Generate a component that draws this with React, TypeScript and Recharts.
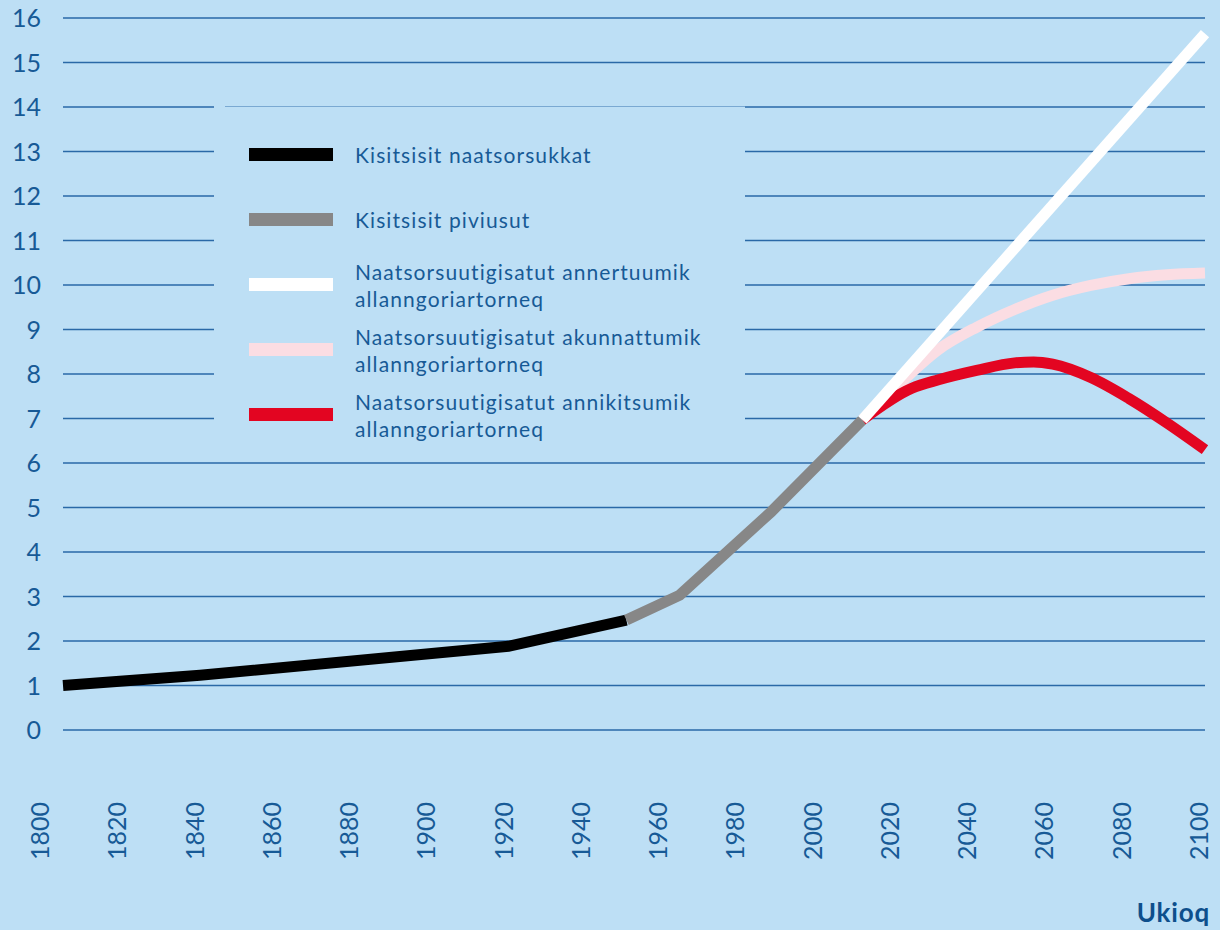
import React from "react";
import { LineChart, Line, XAxis, YAxis, CartesianGrid, Legend } from "recharts";

// values (billions of people)
const blackYears = [1800, 1836, 1917, 1948];
const blackValues = [1.0, 1.23, 1.88, 2.47];
const greyYears = [1948, 1962, 1986, 2010];
const greyValues = [2.47, 3.03, 4.9, 6.97];
const highYears = [2010, 2100];
const highValues = [6.97, 15.65];
const midYears = [2010, 2020, 2030, 2040, 2050, 2060, 2070, 2080, 2090, 2100];
const midValues = [6.97, 7.8, 8.55, 9.05, 9.45, 9.77, 9.99, 10.14, 10.23, 10.27];
const lowYears = [2010, 2023, 2030, 2040, 2050, 2055, 2060, 2070, 2080, 2090, 2100];
const lowValues = [6.97, 7.68, 7.87, 8.08, 8.25, 8.27, 8.22, 7.92, 7.45, 6.9, 6.3];

const xTicks = [1800, 1820, 1840, 1860, 1880, 1900, 1920, 1940, 1960, 1980, 2000, 2020, 2040, 2060, 2080, 2100];
const yTicks = [0, 1, 2, 3, 4, 5, 6, 7, 8, 9, 10, 11, 12, 13, 14, 15, 16];

const series = [
  { key: "black", name: ["Kisitsisit naatsorsukkat"], color: "#000000" },
  { key: "grey", name: ["Kisitsisit piviusut"], color: "#878787" },
  { key: "high", name: ["Naatsorsuutigisatut annertuumik", "allanngoriartorneq"], color: "#ffffff" },
  { key: "mid", name: ["Naatsorsuutigisatut akunnattumik", "allanngoriartorneq"], color: "#fbdde3" },
  { key: "low", name: ["Naatsorsuutigisatut annikitsumik", "allanngoriartorneq"], color: "#e30521" },
];

const BG = "#bddff5";
const TEXT = "#175a96";
const FONT = "Lato, 'Open Sans', sans-serif";

const sources: [string, number[], number[]][] = [
  ["black", blackYears, blackValues],
  ["grey", greyYears, greyValues],
  ["high", highYears, highValues],
  ["mid", midYears, midValues],
  ["low", lowYears, lowValues],
];

const rowMap: Record<number, any> = {};
sources.forEach(([key, years, vals]) => {
  years.forEach((y, i) => {
    if (!rowMap[y]) rowMap[y] = { year: y };
    rowMap[y][key] = vals[i];
  });
});
const data = Object.values(rowMap).sort((a: any, b: any) => a.year - b.year);

const XTick = (props: any) => {
  const { x, y, payload } = props;
  // labels sit slightly left of the data positions in the original
  const shift = -23 + (payload.value - 1800) * 0.0563;
  return (
    <text
      transform={`translate(${x + shift + 9},${y + 72}) rotate(-90)`}
      textAnchor="end"
      fill={TEXT}
      fontSize={25}
      fontFamily={FONT}
    >
      {payload.value}
    </text>
  );
};

const YTick = (props: any) => {
  const { y, payload } = props;
  return (
    <text x={41} y={y} dy={9} textAnchor="end" fill={TEXT} fontSize={25} fontFamily={FONT}>
      {payload.value}
    </text>
  );
};

const LegendBox = () => (
  <div
    style={{
      position: "relative",
      width: 531,
      height: 344,
      background: BG,
      fontFamily: FONT,
      color: TEXT,
      fontSize: 21,
      letterSpacing: 1.1,
      lineHeight: "27px",
      paddingTop: 16,
      boxSizing: "border-box",
    }}
  >
    <div style={{ position: "absolute", top: 0, left: 11, right: 0, height: 1, background: "#7aa9d2" }} />
    {series.map((s) => (
      <div key={s.key} style={{ height: 65, display: "flex", alignItems: "center" }}>
        <div style={{ width: 84, height: 13, background: s.color, marginLeft: 35, flexShrink: 0 }} />
        <div style={{ marginLeft: 22, whiteSpace: "nowrap" }}>
          {s.name.map((t) => (
            <div key={t}>{t}</div>
          ))}
        </div>
      </div>
    ))}
  </div>
);

const drawOrder = ["black", "grey", "mid", "low", "high"];

export default function App() {
  return (
    <div style={{ position: "absolute", left: 0, top: 0, width: 1220, height: 930, background: BG, overflow: "hidden" }}>
      <LineChart width={1220} height={930} data={data} margin={{ top: 18, right: 15, bottom: 0, left: 0 }}>
        <CartesianGrid vertical={false} stroke="#2a69a7" strokeWidth={1.3} />
        <XAxis
          dataKey="year"
          type="number"
          domain={[1800, 2100]}
          ticks={xTicks}
          height={200}
          axisLine={false}
          tickLine={false}
          tickSize={0}
          tickMargin={0}
          interval={0}
          tick={<XTick />}
        />
        <YAxis
          domain={[0, 16]}
          ticks={yTicks}
          width={63}
          axisLine={false}
          tickLine={false}
          interval={0}
          tick={<YTick />}
        />
        <Legend
          layout="vertical"
          align="center"
          verticalAlign="middle"
          content={<LegendBox />}
          wrapperStyle={{ position: "absolute", left: 214, top: 106, width: 531, height: 344 }}
        />
        {drawOrder.map((k) => {
          const s = series.find((x) => x.key === k)!;
          return (
            <Line
              key={k}
              dataKey={k}
              name={s.name.join(" ")}
              type={k === "mid" || k === "low" ? "monotone" : "linear"}
              stroke={s.color}
              strokeWidth={11}
              dot={false}
              activeDot={false}
              connectNulls
              isAnimationActive={false}
            />
          );
        })}
      </LineChart>
      <div
        style={{
          position: "absolute",
          right: 10,
          top: 899,
          fontFamily: FONT,
          fontWeight: 700,
          fontSize: 26,
          letterSpacing: 0.8,
          lineHeight: "26px",
          color: "#0e4f8c",
        }}
      >
        Ukioq
      </div>
    </div>
  );
}
